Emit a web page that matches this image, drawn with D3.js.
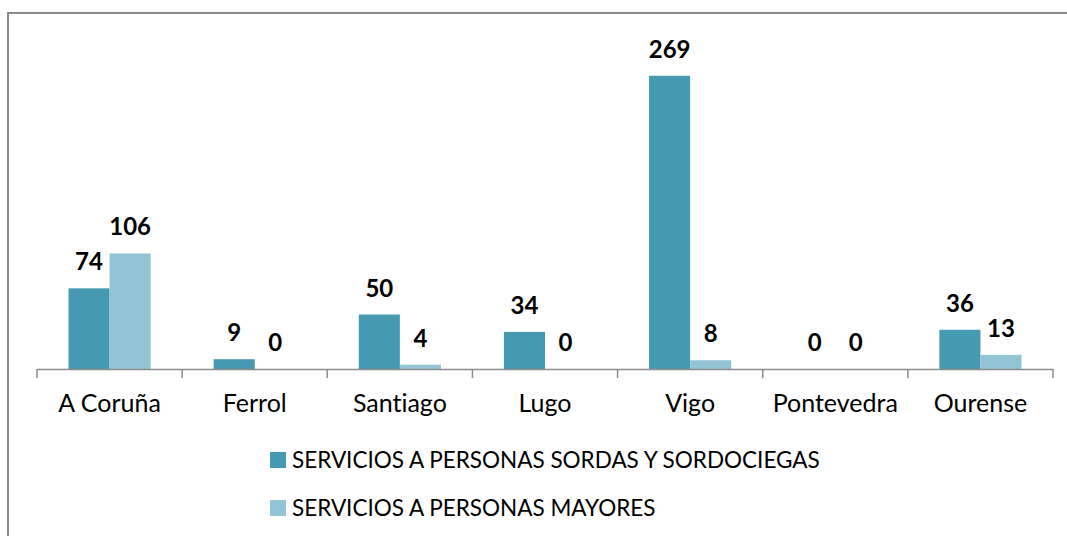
<!DOCTYPE html>
<html>
<head>
<meta charset="utf-8">
<script src="https://cdn.jsdelivr.net/npm/d3@7.9.0/dist/d3.min.js"></script>
<style>
  body { margin: 0; background: #fff; }
  svg { display: block; font-family: Lato, "Open Sans", sans-serif; font-variant-ligatures: none; }
</style>
</head>
<body>
<svg id="chart" width="1067" height="536"></svg>
<script>
// data
const categories = ["A Coruña", "Ferrol", "Santiago", "Lugo", "Vigo", "Pontevedra", "Ourense"];
const seriesNames = ["SERVICIOS A PERSONAS SORDAS Y SORDOCIEGAS", "SERVICIOS A PERSONAS MAYORES"];
const sordas = [74, 9, 50, 34, 269, 0, 36];
const mayores = [106, 0, 4, 0, 8, 0, 13];
const seriesColors = ["#4599b1", "#93c4d6"];

const seriesValues = [sordas, mayores];
const data = categories.map((c, i) => ({
    cat: c,
    values: seriesNames.map((s, j) => ({ key: s, value: seriesValues[j][i] }))
}));

const svg = d3.select("#chart");

// outer frame of the chart area
svg.append("rect")
    .attr("x", 8).attr("y", 13)
    .attr("width", 1080).attr("height", 560)
    .attr("fill", "none")
    .attr("stroke", "#898989")
    .attr("stroke-width", 2);

const x0 = d3.scaleBand().domain(categories).range([37, 1053]);
const bw = x0.bandwidth();
const x1 = d3.scaleBand().domain(seriesNames).range([bw * 0.217, bw * 0.783]);
const y = d3.scaleLinear().domain([0, 300]).range([369, 42]);

const groups = svg.selectAll("g.cat")
    .data(data)
    .enter()
    .append("g")
    .attr("class", "cat")
    .attr("transform", d => `translate(${x0(d.cat)},0)`);

groups.selectAll("rect")
    .data(d => d.values)
    .enter()
    .append("rect")
    .attr("x", d => x1(d.key))
    .attr("width", x1.bandwidth())
    .attr("y", d => y(d.value))
    .attr("height", d => y(0) - y(d.value))
    .attr("fill", (d, i) => seriesColors[i]);

groups.selectAll("text.val")
    .data(d => d.values)
    .enter()
    .append("text")
    .attr("class", "val")
    .attr("x", d => x1(d.key) + x1.bandwidth() / 2)
    .attr("y", d => y(d.value) - 18)
    .attr("text-anchor", "middle")
    .attr("font-size", 24)
    .attr("font-weight", "bold")
    .attr("fill", "#000")
    .text(d => d.value);

// category axis with ticks between bands
const axisG = svg.append("g");
axisG.append("line")
    .attr("x1", 37).attr("x2", 1053)
    .attr("y1", 369.5).attr("y2", 369.5)
    .attr("stroke", "#8c8c8c").attr("stroke-width", 1.5);

const tickPos = categories.map(c => x0(c)).concat([x0.range()[1]]);
axisG.selectAll("line.tick")
    .data(tickPos)
    .enter()
    .append("line")
    .attr("class", "tick")
    .attr("x1", d => d).attr("x2", d => d)
    .attr("y1", 369).attr("y2", 378)
    .attr("stroke", "#8c8c8c").attr("stroke-width", 1.5);

axisG.selectAll("text.cat")
    .data(categories)
    .enter()
    .append("text")
    .attr("class", "cat")
    .attr("x", d => x0(d) + bw / 2)
    .attr("y", 412)
    .attr("text-anchor", "middle")
    .attr("font-size", 25)
    .attr("fill", "#000")
    .text(d => d);

// legend
const legend = svg.append("g").attr("transform", "translate(270,452)");
const items = legend.selectAll("g")
    .data(seriesNames)
    .enter()
    .append("g")
    .attr("transform", (d, i) => `translate(0,${i * 48})`);

items.append("rect")
    .attr("width", 16).attr("height", 16)
    .attr("fill", (d, i) => seriesColors[i]);

items.append("text")
    .attr("x", 22)
    .attr("y", 16)
    .attr("font-size", 22.5)
    .attr("fill", "#000")
    .text(d => d);
</script>
</body>
</html>
